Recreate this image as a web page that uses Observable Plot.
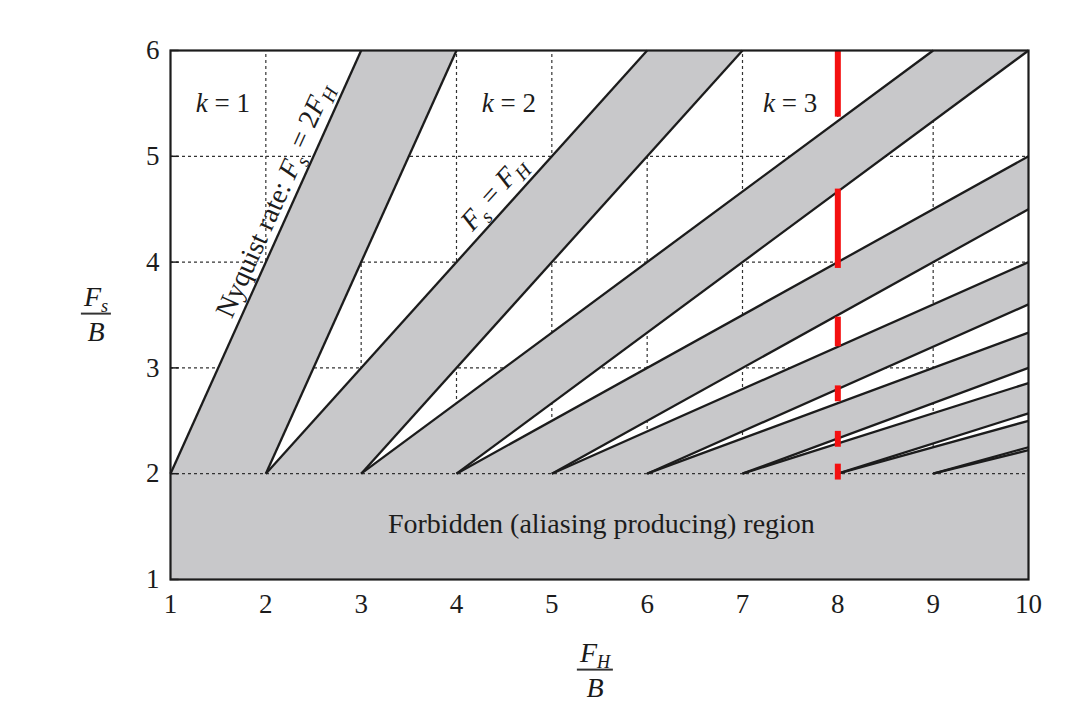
<!DOCTYPE html>
<html><head><meta charset="utf-8">
<script src="https://cdn.jsdelivr.net/npm/d3@7"></script>
<script src="https://cdn.jsdelivr.net/npm/@observablehq/plot@0.6"></script>
<style>
body{margin:0;background:#fff;font-family:"Liberation Serif",serif;}
#wrap{position:relative;width:1091px;height:725px;overflow:hidden;}
.frac{position:absolute;font-family:"Liberation Serif",serif;font-style:italic;font-size:28px;color:#1a1a1a;text-align:center;transform:translate(-50%,-50%);line-height:1.05;}
.frac .num{display:block;border-bottom:2px solid #333;padding:0 3px 2px 3px;}
.frac .den{display:block;padding-top:2px;}
.frac sub{font-size:65%;vertical-align:-0.35em;line-height:0;}
</style></head><body><div id="wrap"></div>
<script>
// ---- data ----
const kValues = [1, 2, 3, 4, 5, 6, 7, 8, 9];
const upperStartX = [1, 2, 3, 4, 5, 6, 7, 8, 9];
const upperEndX = [3, 6, 9, 10, 10, 10, 10, 10, 10];
const upperEndY = [6, 6, 6, 5, 4, 3.333, 2.857, 2.5, 2.222];
const lowerStartX = [2, 3, 4, 5, 6, 7, 8, 9, 10];
const lowerEndX = [4, 7, 10, 10, 10, 10, 10, 10, 10];
const lowerEndY = [6, 6, 6, 4.5, 3.6, 3, 2.571, 2.25, 2];
const floorY = 2;
const xTicks = [1, 2, 3, 4, 5, 6, 7, 8, 9, 10];
const yTicks = [1, 2, 3, 4, 5, 6];
const gridX = [2, 3, 4, 5, 6, 7, 8, 9];
const gridY = [3, 4, 5];
const redX = 8;
const redY1 = [5.37, 3.94, 3.20, 2.68, 2.25, 1.94];
const redY2 = [6.00, 4.69, 3.48, 2.83, 2.40, 2.09];
const regionLabels = ["k = 1", "k = 2", "k = 3"];
const regionLabelX = [1.55, 4.55, 7.5];
const regionLabelY = [5.5, 5.5, 5.5];

// ---- derived tables ----
const polys = [];
kValues.forEach((k, i) => {
  polys.push({k, x: upperStartX[i], y: floorY});
  polys.push({k, x: upperEndX[i], y: upperEndY[i]});
  polys.push({k, x: lowerEndX[i], y: lowerEndY[i]});
  polys.push({k, x: lowerStartX[i], y: floorY});
});
const edges = [];
kValues.forEach((k, i) => {
  edges.push({x1: upperStartX[i], y1: floorY, x2: upperEndX[i], y2: upperEndY[i]});
  edges.push({x1: lowerStartX[i], y1: floorY, x2: lowerEndX[i], y2: lowerEndY[i]});
});
const red = redY1.map((y1, i) => ({x: redX, y1, y2: redY2[i]}));
const labels = regionLabels.map((t, i) => ({t, x: regionLabelX[i], y: regionLabelY[i]}));

const GRAY = "#c8c8ca";
const INK = "#1c1c1c";
const FONT = "Liberation Serif";

const plot = Plot.plot({
  width: 1091, height: 725,
  marginLeft: 170, marginRight: 63, marginTop: 50, marginBottom: 146,
  style: {fontFamily: FONT, fontSize: "27px", color: INK, background: "transparent"},
  x: {domain: [1, 10], label: null},
  y: {domain: [1, 6], label: null},
  marks: [
    Plot.ruleX(gridX, {x: d => d, y1: 1, y2: 6, stroke: "#333", strokeWidth: 1.2, strokeDasharray: "3,3"}),
    Plot.ruleY(gridY, {y: d => d, x1: 1, x2: 10, stroke: "#333", strokeWidth: 1.2, strokeDasharray: "3,3"}),
    Plot.rect([{x1: 1, x2: 10, y1: 1, y2: floorY}], {x1: "x1", x2: "x2", y1: "y1", y2: "y2", fill: GRAY}),
    Plot.line(polys, {x: "x", y: "y", z: "k", fill: GRAY, stroke: "none", curve: "linear-closed"}),
    Plot.ruleY([floorY], {x1: 1, x2: 10, stroke: "#333", strokeWidth: 1.2, strokeDasharray: "3,3"}),
    Plot.link(edges, {x1: "x1", y1: "y1", x2: "x2", y2: "y2", stroke: INK, strokeWidth: 2.3}),
    Plot.ruleX(red, {x: "x", y1: "y1", y2: "y2", stroke: "#f41010", strokeWidth: 6}),
    Plot.text([{x: 5.52, y: 1.52}], {x: "x", y: "y", text: () => "Forbidden (aliasing producing) region", fontSize: 28, fill: INK}),
    Plot.text(labels, {x: "x", y: "y", text: "t", fontSize: 27, fill: INK}),
    Plot.text([{x: 2.1, y: 4.58}], {x: "x", y: "y", text: () => "Nyquist rate: Fs = 2FH", rotate: -65.75, fontSize: 28, fill: INK}),
    Plot.text([{x: 4.4, y: 4.64}], {x: "x", y: "y", text: () => "Fs = FH", rotate: -47.98, fontSize: 28, fill: INK}),
    Plot.ruleY(yTicks, {y: d => d, x1: 1, x2: 1.09, stroke: INK, strokeWidth: 1.5}),
    Plot.axisX(xTicks, {tickSize: 0, tickPadding: 14, fontSize: 27, tickFormat: "d"}),
    Plot.axisY(yTicks, {tickSize: 0, tickPadding: 11, fontSize: 27, tickFormat: "d"}),
    Plot.frame({stroke: INK, strokeWidth: 2.2})
  ]
});

const it = s => `<tspan font-style="italic">${s}</tspan>`;
const sub = s => `<tspan font-style="italic" font-size="70%" dy="0.32em">${s}</tspan>`;
const rich = {
  "k = 1": it("k") + " = 1",
  "k = 2": it("k") + " = 2",
  "k = 3": it("k") + " = 3",
  "Nyquist rate: Fs = 2FH": "Nyquist rate: " + it("F") + sub("s") + '<tspan dy="-0.32em"> = 2</tspan>' + it("F") + sub("H"),
  "Fs = FH": it("F") + sub("s") + '<tspan dy="-0.32em"> = </tspan>' + it("F") + sub("H")
};
d3.select(plot).selectAll("text").each(function() {
  const t = this.textContent;
  if (rich[t]) this.innerHTML = rich[t];
});

const wrap = document.getElementById("wrap");
wrap.appendChild(plot);

function frac(num, den, cx, cy) {
  const d = document.createElement("div");
  d.className = "frac";
  d.innerHTML = `<span class="num">${num}</span><span class="den">${den}</span>`;
  d.style.left = cx + "px";
  d.style.top = cy + "px";
  wrap.appendChild(d);
}
frac("F<sub>s</sub>", "B", 96, 314);
frac("F<sub>H</sub>", "B", 595, 670);
</script>
</body></html>
